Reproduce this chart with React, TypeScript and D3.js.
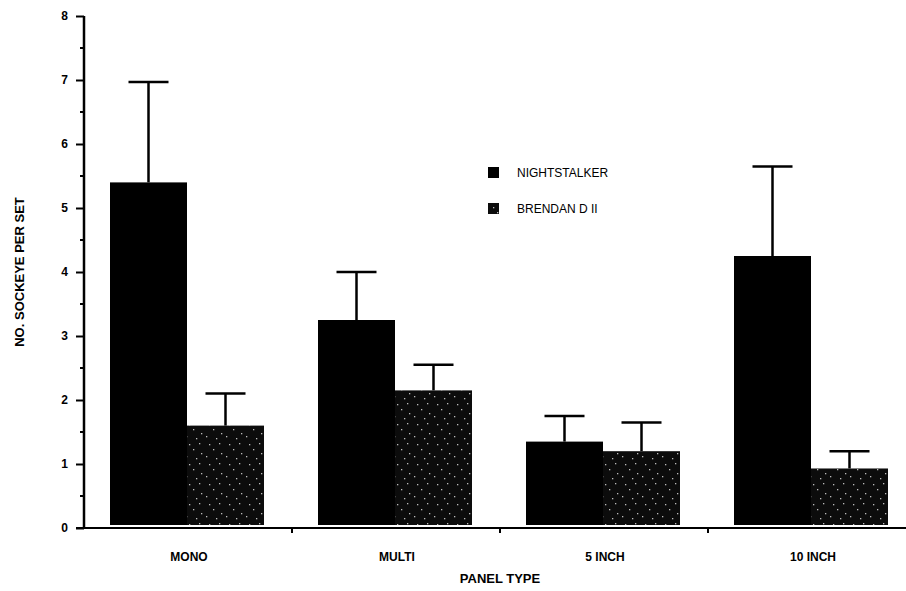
import React, { useEffect, useRef } from "react";
import * as d3 from "d3";

const categories = ["MONO", "MULTI", "5 INCH", "10 INCH"];
const seriesNames = ["NIGHTSTALKER", "BRENDAN D II"];
const nightstalker = [5.4, 3.25, 1.35, 4.25];
const nightstalkerErr = [6.97, 4.0, 1.75, 5.65];
const brendan = [1.6, 2.15, 1.2, 0.93];
const brendanErr = [2.1, 2.55, 1.65, 1.2];
const yTicks = [0, 1, 2, 3, 4, 5, 6, 7, 8];

const FONT = "'Liberation Sans Narrow', 'Liberation Sans', Arial, sans-serif";

const App: React.FC = () => {
  const svgRef = useRef<SVGSVGElement | null>(null);

  useEffect(() => {
    const svg = d3.select(svgRef.current);
    svg.selectAll("*").remove();

    const width = 906;
    const height = 591;
    const axisX = 84;
    const baseY = 528;

    svg.attr("width", width).attr("height", height);

    // speckled fill for the second series
    const defs = svg.append("defs");
    const pat = defs
      .append("pattern")
      .attr("id", "speckle")
      .attr("patternUnits", "userSpaceOnUse")
      .attr("width", 20)
      .attr("height", 20);
    pat.append("rect").attr("width", 20).attr("height", 20).attr("fill", "#0c0c0c");
    [
      [2, 16],
      [9, 9],
      [15, 3],
      [5, 4],
      [17, 13],
      [12, 18],
    ].forEach(([cx, cy]) =>
      pat
        .append("rect")
        .attr("x", cx)
        .attr("y", cy)
        .attr("width", 1.3)
        .attr("height", 1.3)
        .attr("fill", "#bbb")
    );

    const y = d3.scaleLinear().domain([0, 8]).range([baseY, 16]);
    const x0 = d3.scaleBand().domain(categories).range([axisX, 916]);
    const x1 = d3
      .scaleBand()
      .domain(seriesNames)
      .range([26, x0.bandwidth() - 28]);

    const data = categories.map((c, i) => ({
      cat: c,
      values: [
        { name: seriesNames[0], v: nightstalker[i], err: nightstalkerErr[i], fill: "#000" },
        { name: seriesNames[1], v: brendan[i], err: brendanErr[i], fill: "url(#speckle)" },
      ],
    }));

    const g = svg.append("g");

    const groups = g
      .selectAll("g.grp")
      .data(data)
      .enter()
      .append("g")
      .attr("class", "grp")
      .attr("transform", (d) => `translate(${x0(d.cat)},0)`);

    // error bars (upper only)
    groups
      .selectAll("line.err")
      .data((d) => d.values)
      .enter()
      .append("line")
      .attr("x1", (d) => x1(d.name)! + x1.bandwidth() / 2)
      .attr("x2", (d) => x1(d.name)! + x1.bandwidth() / 2)
      .attr("y1", (d) => y(d.v))
      .attr("y2", (d) => y(d.err))
      .attr("stroke", "#000")
      .attr("stroke-width", 2.5);

    groups
      .selectAll("line.cap")
      .data((d) => d.values)
      .enter()
      .append("line")
      .attr("x1", (d) => x1(d.name)! + x1.bandwidth() / 2 - 20)
      .attr("x2", (d) => x1(d.name)! + x1.bandwidth() / 2 + 20)
      .attr("y1", (d) => y(d.err))
      .attr("y2", (d) => y(d.err))
      .attr("stroke", "#000")
      .attr("stroke-width", 2.5);

    groups
      .selectAll("rect")
      .data((d) => d.values)
      .enter()
      .append("rect")
      .attr("x", (d) => x1(d.name)!)
      .attr("y", (d) => y(d.v))
      .attr("width", x1.bandwidth())
      .attr("height", (d) => baseY - 3 - y(d.v))
      .attr("fill", (d) => d.fill);

    // y axis
    const yAxis = d3
      .axisLeft(y)
      .tickValues(yTicks)
      .tickSize(8)
      .tickPadding(8)
      .tickFormat(d3.format("d") as any);
    const yAxisG = g
      .append("g")
      .attr("transform", `translate(${axisX},0)`)
      .call(yAxis as any);
    yAxisG.select(".domain").attr("stroke-width", 2.5).attr("d", `M0,${y(8)}V${baseY}`);
    yAxisG.selectAll(".tick line").attr("stroke-width", 2);
    yAxisG
      .selectAll(".tick text")
      .style("font-family", FONT)
      .style("font-size", "12px")
      .style("font-weight", "bold");

    g.append("g")
      .selectAll("line")
      .data(d3.range(0.5, 8, 1))
      .enter()
      .append("line")
      .attr("x1", axisX - 4)
      .attr("x2", axisX)
      .attr("y1", (d) => y(d))
      .attr("y2", (d) => y(d))
      .attr("stroke", "#000")
      .attr("stroke-width", 2);

    // x axis
    g.append("line")
      .attr("x1", axisX - 8)
      .attr("x2", width)
      .attr("y1", baseY)
      .attr("y2", baseY)
      .attr("stroke", "#000")
      .attr("stroke-width", 2);

    g.append("g")
      .selectAll("line")
      .data(categories.slice(1))
      .enter()
      .append("line")
      .attr("x1", (d) => x0(d)!)
      .attr("x2", (d) => x0(d)!)
      .attr("y1", baseY)
      .attr("y2", baseY + 5)
      .attr("stroke", "#000")
      .attr("stroke-width", 2);

    g.append("g")
      .selectAll("text")
      .data(categories)
      .enter()
      .append("text")
      .attr("x", (d) => x0(d)! + x0.bandwidth() / 2 + 1)
      .attr("y", 561)
      .attr("text-anchor", "middle")
      .style("font-family", FONT)
      .style("font-size", "12px")
      .style("font-weight", "bold")
      .text((d) => d);

    svg
      .append("text")
      .attr("x", 500)
      .attr("y", 583)
      .attr("text-anchor", "middle")
      .style("font-family", FONT)
      .style("font-size", "13px")
      .style("font-weight", "bold")
      .text("PANEL TYPE");

    svg
      .append("text")
      .attr("transform", `translate(24,${272}) rotate(-90)`)
      .attr("text-anchor", "middle")
      .style("font-family", FONT)
      .style("font-size", "13px")
      .style("font-weight", "bold")
      .text("NO. SOCKEYE PER SET");

    // legend
    const legend = svg
      .append("g")
      .selectAll("g")
      .data(seriesNames)
      .enter()
      .append("g")
      .attr("transform", (_d, i) => `translate(488,${167 + i * 36})`);
    legend
      .append("rect")
      .attr("width", 11)
      .attr("height", 11)
      .attr("fill", (_d, i) => (i === 0 ? "#000" : "url(#speckle)"));
    legend
      .append("text")
      .attr("x", 29)
      .attr("y", 10)
      .style("font-family", FONT)
      .style("font-size", "12px")
      .text((d) => d);
  }, []);

  return (
    <svg
      ref={svgRef}
      style={{ position: "absolute", left: 0, top: 0, background: "#fff" }}
    />
  );
};

export default App;
